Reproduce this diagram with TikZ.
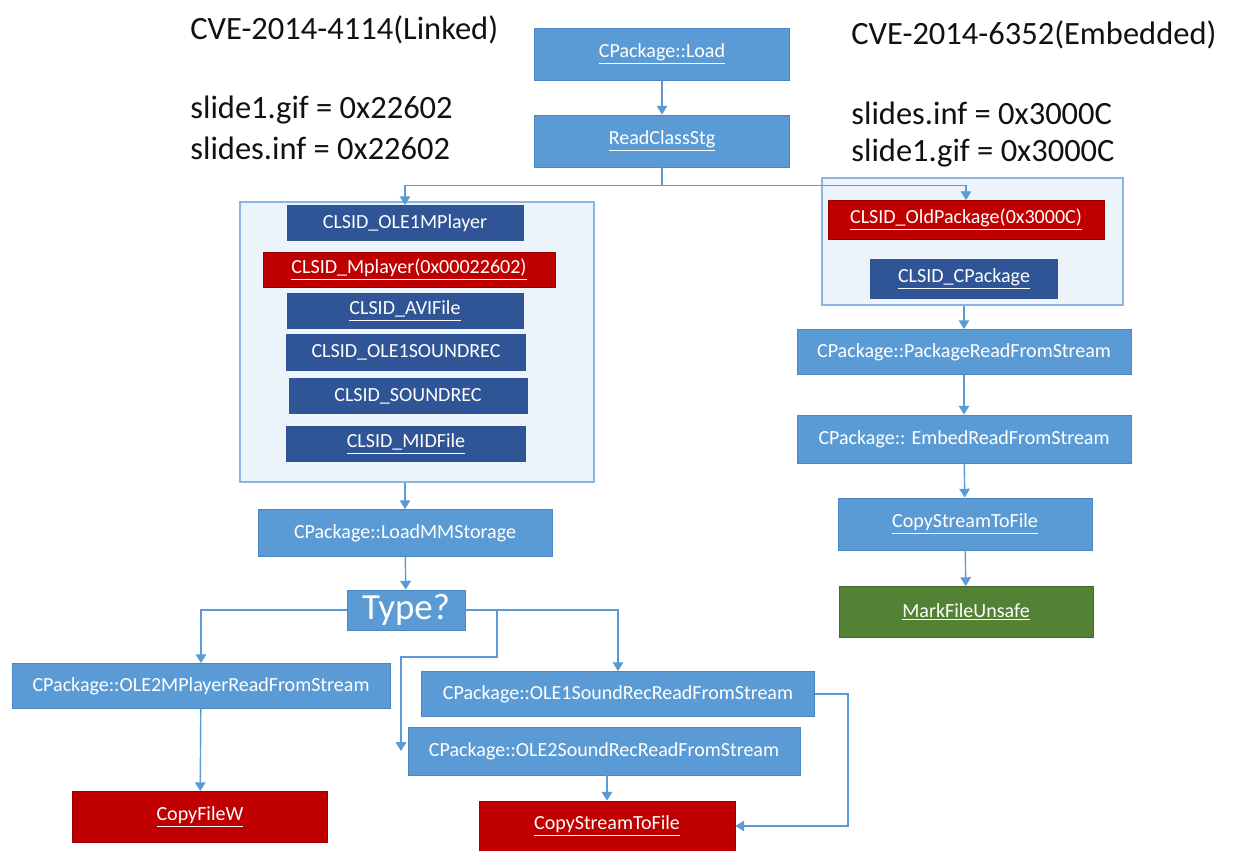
\documentclass[tikz,border=0pt]{standalone}
\usepackage{fontspec}
\setmainfont{Carlito}
\usepackage{xcolor}
\usepackage{tikz}
\usetikzlibrary{calc,arrows.meta}
\definecolor{bg}{HTML}{FFFFFF}
\definecolor{mid}{HTML}{5B9BD5}
\definecolor{midedge}{HTML}{4A86C0}
\definecolor{deep}{HTML}{2F5597}
\definecolor{alarm}{HTML}{C00000}
\definecolor{safe}{HTML}{548235}
\definecolor{groupbg}{HTML}{EDF3FA}
\definecolor{groupedge}{HTML}{8EB4E3}
\definecolor{ink}{HTML}{111111}
\newcommand{\ulx}[1]{\underline{#1}}
\tikzset{
  box/.style={rectangle, fill=mid, draw=midedge, line width=0.5pt, text=white, inner sep=0pt,
    font=\fontsize{11.4}{13}\selectfont},
  clsid/.style={box, fill=deep, draw=deep},
  hot/.style={box, fill=alarm, draw=alarm!80!black},
  okbox/.style={box, fill=safe, draw=safe!80!black},
  group/.style={rectangle, fill=groupbg, draw=groupedge, line width=0.8pt, inner sep=0pt},
  arr/.style={draw=mid, line width=0.8pt, -{Triangle[width=6pt,length=5pt]}},
  head/.style={text=ink, anchor=west, inner sep=0pt, font=\fontsize{18.5}{22}\selectfont},
}

\begin{document}
\begin{tikzpicture}[x=0.02cm, y=-0.02cm]
  \useasboundingbox[fill=bg] (0,0) rectangle (1233,851);

  % titles
  \node[head] (cveL) at (190,30) {CVE-2014-4114(Linked)};
  \node[head] (gifL) at (190,110) {slide1.gif = 0x22602};
  \node[head] (infL) at (190,148) {slides.inf = 0x22602};
  \node[head] (cveR) at (851,35) {CVE-2014-6352(Embedded)};
  \node[head] (infR) at (851,113) {slides.inf = 0x3000C};
  \node[head] (gifR) at (851,153) {slide1.gif = 0x3000C};

  % top chain
  \node[box, minimum width=5.1cm, minimum height=1.04cm] (load) at (662,54) {\ulx{CPackage::Load}};
  \node[box, minimum width=5.1cm, minimum height=1.04cm] (rcs) at (662,141) {\ulx{ReadClassStg}};

  % linked branch
  \node[group, minimum width=7.08cm, minimum height=5.6cm] (lbox) at (417,342) {};
  \node[clsid, minimum width=4.72cm, minimum height=0.7cm] (c1) at (405,223) {CLSID\_OLE1MPlayer};
  \node[hot, minimum width=5.84cm, minimum height=0.7cm] (c2) at (409,270) {\ulx{CLSID\_Mplayer(0x00022602)}};
  \node[clsid, minimum width=4.72cm, minimum height=0.7cm] (c3) at (405,311) {\ulx{CLSID\_AVIFile}};
  \node[clsid, minimum width=4.78cm, minimum height=0.72cm] (c4) at (406,352) {CLSID\_OLE1SOUNDREC};
  \node[clsid, minimum width=4.76cm, minimum height=0.7cm] (c5) at (408,396) {CLSID\_SOUNDREC};
  \node[clsid, minimum width=4.78cm, minimum height=0.7cm] (c6) at (406,444) {\ulx{CLSID\_MIDFile}};

  \node[box, minimum width=5.88cm, minimum height=0.94cm] (mms) at (405,533) {CPackage::LoadMMStorage};
  \node[box, minimum width=2.36cm, minimum height=0.8cm, font=\fontsize{21}{24}\selectfont] (type) at (406,610) {Type?};
  \node[box, minimum width=7.56cm, minimum height=0.9cm] (mpr) at (201,686) {CPackage::OLE2MPlayerReadFromStream};
  \node[hot, minimum width=5.1cm, minimum height=1.02cm] (cfw) at (200,817) {\ulx{CopyFileW}};
  \node[box, minimum width=7.86cm, minimum height=0.9cm] (s1) at (618,694) {CPackage::OLE1SoundRecReadFromStream};
  \node[box, minimum width=7.84cm, minimum height=0.96cm] (s2) at (604,751) {CPackage::OLE2SoundRecReadFromStream};
  \node[hot, minimum width=5.12cm, minimum height=1.0cm] (csf) at (607,826) {\ulx{CopyStreamToFile}};

  % embedded branch
  \node[group, minimum width=6.02cm, minimum height=2.54cm] (rbox) at (972.5,241.5) {};
  \node[hot, minimum width=5.52cm, minimum height=0.78cm] (old) at (966,220) {\ulx{CLSID\_OldPackage(0x3000C)}};
  \node[clsid, minimum width=3.74cm, minimum height=0.78cm] (cpkg) at (964,279) {\ulx{CLSID\_CPackage}};
  \node[box, minimum width=6.68cm, minimum height=0.9cm] (prs) at (964,352) {CPackage::PackageReadFromStream};
  \node[box, minimum width=6.68cm, minimum height=0.96cm] (ers) at (964,439) {CPackage:: EmbedReadFromStream};
  \node[box, minimum width=5.08cm, minimum height=1.04cm] (cst) at (965,524) {\ulx{CopyStreamToFile}};
  \node[okbox, minimum width=5.08cm, minimum height=1.02cm] (mfu) at (966,612) {\ulx{MarkFileUnsafe}};

  % connectors
  \draw[arr] (load) -- (rcs);
  \draw[arr] (rcs.south) -- ++(0,18) -| (c1.north);
  \draw[arr] (rcs.south) -- ++(0,18) -| (old.north);
  \draw[arr] (lbox.south -| mms) -- (mms);
  \draw[arr] (mms) -- (type);
  \draw[arr] (type.west) -| (mpr.north);
  \draw[arr] (type.east) -| (s1.north);
  \coordinate (split) at (497,610);
  \coordinate (bend) at (401,657);
  \draw[arr] (split) |- (bend) -- (bend |- s2.west);
  \draw[arr] (mpr) -- (cfw);
  \draw[arr] (s2.south -| csf) -- (csf.north);
  \draw[arr] (s1.east) -- ++(33,0) |- (csf.east);
  \draw[arr] (rbox.south -| cpkg) -- (prs);
  \draw[arr] (prs) -- (ers);
  \draw[arr] (ers) -- (cst);
  \draw[arr] (cst) -- (mfu);
\end{tikzpicture}
\end{document}
